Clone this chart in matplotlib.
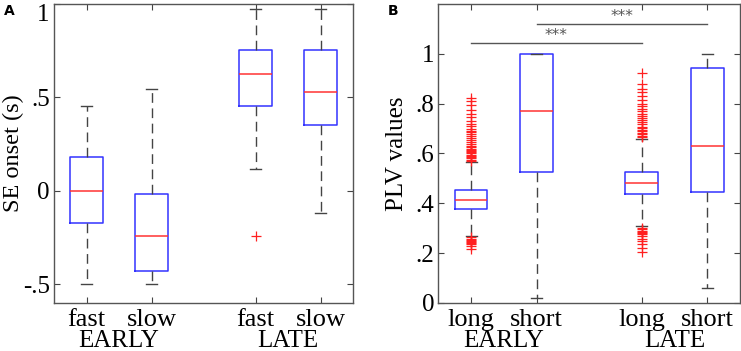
import matplotlib
matplotlib.use("Agg")
import matplotlib.pyplot as plt

# ---------------- data ----------------
# Panel A: SE onset (s)
a_labels = ["fast", "slow", "fast", "slow"]
a_groups = ["EARLY", "LATE"]
a_whislo = [-0.50, -0.50, 0.116, -0.121]
a_q1 = [-0.174, -0.430, 0.455, 0.355]
a_med = [0.000, -0.239, 0.628, 0.530]
a_q3 = [0.182, -0.016, 0.756, 0.756]
a_whishi = [0.453, 0.544, 0.972, 0.972]
a_fliers = [[], [], [-0.24], []]
a_yticks = [-0.5, 0.0, 0.5, 1.0]
a_yticklabels = ["-.5", "0", ".5", "1"]

# Panel B: PLV values
b_labels = ["long", "short", "long", "short"]
b_groups = ["EARLY", "LATE"]
b_whislo = [0.269, 0.018, 0.307, 0.062]
b_q1 = [0.377, 0.525, 0.438, 0.445]
b_med = [0.412, 0.772, 0.481, 0.631]
b_q3 = [0.452, 1.000, 0.525, 0.942]
b_whishi = [0.565, 1.000, 0.659, 1.000]
b_fliers_early_long = [0.570, 0.575, 0.580, 0.585, 0.590, 0.595, 0.600, 0.605, 0.610,
                       0.615, 0.620, 0.625, 0.630, 0.640, 0.648, 0.655, 0.662, 0.670,
                       0.678, 0.685, 0.692, 0.700, 0.710, 0.718, 0.730, 0.745, 0.760,
                       0.775, 0.795, 0.810, 0.823,
                       0.265, 0.258, 0.252, 0.248, 0.244, 0.240, 0.235, 0.228, 0.218]
b_fliers_late_long = [0.665, 0.672, 0.678, 0.684, 0.690, 0.696, 0.702, 0.708, 0.720,
                      0.728, 0.735, 0.742, 0.750, 0.758, 0.770, 0.780, 0.790, 0.800,
                      0.815, 0.830, 0.845, 0.860, 0.880, 0.922,
                      0.300, 0.295, 0.290, 0.285, 0.280, 0.275, 0.268, 0.258, 0.248,
                      0.236, 0.222, 0.204]
b_fliers = [b_fliers_early_long, [], b_fliers_late_long, []]
b_yticks = [0.0, 0.2, 0.4, 0.6, 0.8, 1.0]
b_yticklabels = ["0", ".2", ".4", ".6", ".8", "1"]
# significance bars: (from box index, to box index, y level, label)
b_sig = [(0, 2, 1.042, "***"), (1, 3, 1.120, "***")]

positions = [1.0, 2.0, 3.6, 4.6]

SERIF = "Liberation Serif"


def make_stats(lo, q1, med, q3, hi, fliers):
    return [dict(whislo=lo[i], q1=q1[i], med=med[i], q3=q3[i], whishi=hi[i],
                 fliers=fliers[i]) for i in range(len(lo))]


def draw_panel(ax, stats, labels, groups, yticks, yticklabels, ylim, ylabel, ylsize):
    ax.bxp(stats, positions=positions, widths=0.5, capwidths=0.17,
           boxprops=dict(color="#3333ff", linewidth=1.1),
           medianprops=dict(color="#ff3333", linewidth=1.1),
           whiskerprops=dict(color="#444444", linewidth=1.0, linestyle=(0, (7, 4))),
           capprops=dict(color="#444444", linewidth=1.0),
           flierprops=dict(marker="+", markeredgecolor="#ff2020", markersize=6.5,
                           markeredgewidth=0.9, linestyle="none"),
           showfliers=True)
    ax.set_xlim(0.5, 5.1)
    ax.set_ylim(*ylim)
    ax.set_xticks(positions)
    ax.set_xticklabels(labels, fontfamily=SERIF, fontsize=19)
    ax.set_yticks(yticks)
    ax.set_yticklabels(yticklabels, fontfamily=SERIF, fontsize=18)
    ax.set_ylabel(ylabel, fontfamily=SERIF, fontsize=ylsize, va="center")
    ax.yaxis.set_label_coords(-0.136, 0.5)
    ax.tick_params(direction="in", top=True, right=True, length=4,
                   color="#444444", pad=3)
    ax.tick_params(axis="x", pad=4)
    for s in ax.spines.values():
        s.set_color("#555555")
        s.set_linewidth(1.0)
    centers = [(positions[0] + positions[1]) / 2, (positions[2] + positions[3]) / 2]
    for c, g in zip(centers, groups):
        ax.text(c, -0.127, g, transform=ax.get_xaxis_transform(), ha="center",
                va="center", fontfamily=SERIF, fontsize=18)


fig = plt.figure(figsize=(7.41, 3.51), dpi=100)
axA = fig.add_axes([0.0729, 0.1368, 0.4035, 0.8518])
axB = fig.add_axes([0.5915, 0.1368, 0.4072, 0.8518])

draw_panel(axA, make_stats(a_whislo, a_q1, a_med, a_q3, a_whishi, a_fliers),
           a_labels, a_groups, a_yticks, a_yticklabels, (-0.6, 1.0), "SE onset (s)", 17.5)
draw_panel(axB, make_stats(b_whislo, b_q1, b_med, b_q3, b_whishi, b_fliers),
           b_labels, b_groups, b_yticks, b_yticklabels, (0.0, 1.2), "PLV values", 18)

# top label of panel A sits just below the top edge
axA.get_yticklabels()[-1].set_verticalalignment("top")

for i0, i1, y, lab in b_sig:
    axB.plot([positions[i0], positions[i1]], [y, y], color="#555555", linewidth=1.0)
    axB.text((positions[i0] + positions[i1]) / 2, y + 0.03, lab, ha="center",
             va="center", fontsize=11, color="#555555")

fig.text(4 / 741, 1 - 11 / 351, "A", fontsize=10, fontweight="bold",
         fontfamily="DejaVu Sans", va="center", ha="left")
fig.text(388 / 741, 1 - 11 / 351, "B", fontsize=10, fontweight="bold",
         fontfamily="DejaVu Sans", va="center", ha="left")

fig.savefig("out.png", dpi=100)
